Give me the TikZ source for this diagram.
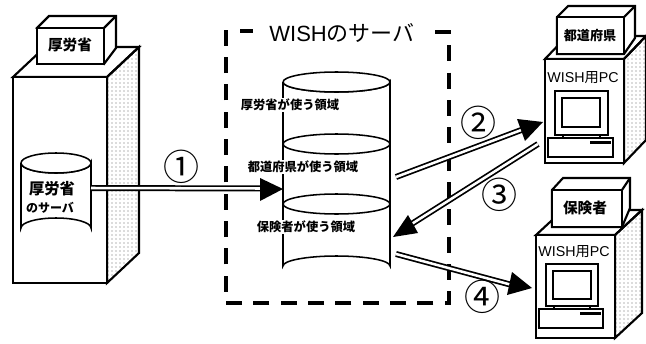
\documentclass[tikz,border=0pt]{standalone}
\usepackage{fontspec}
\setmainfont{Liberation Sans}
\newfontfamily\jp{Noto Sans CJK JP}
\usetikzlibrary{arrows.meta,patterns}
\tikzset{
  x=0.75pt,y=-0.75pt,
  solid box/.style={draw=black,line width=1.6pt,line join=miter,fill=white},
  shaded side/.style={draw=black,line width=1.6pt,pattern=dots,pattern color=black!60},
  body/.style={draw=black,line width=1.15pt,fill=white},
  small label/.style={font=\jp\bfseries\fontsize{9.2pt}{10pt}\selectfont,inner sep=0.6pt,fill=white},
  box label/.style={font=\jp\bfseries\fontsize{11pt}{12pt}\selectfont,inner sep=0pt},
  pc label/.style={font=\fontsize{10.7pt}{12pt}\selectfont,inner sep=0pt},
  num label/.style={font=\jp\fontsize{27pt}{30pt}\selectfont,inner sep=0pt},
  link/.style={draw=black,line width=1.3pt,double=white,double distance=1.9pt},
  arrow head/.style={fill=black,draw=none},
}
\newcommand{\buildingshape}[6]{% x1 y1 x2 y2 dx dy
  \fill[white] (#1,#2)--(#1+#5,#2-#6)--(#3+#5,#2-#6)--(#3,#2)--cycle;
  \path[shaded side] (#3,#2)--(#3+#5,#2-#6)--(#3+#5,#4-#6)--(#3,#4)--cycle;
  \draw[solid box,fill=none] (#1,#2)--(#1+#5,#2-#6)--(#3+#5,#2-#6)--(#3,#2)--cycle;
  \draw[solid box] (#1,#2) rectangle (#3,#4);
}
\newcommand{\cyl}[5]{% xl xr ytop ybot ry
  \path[body] (#1,#3) -- (#1,#4) arc[start angle=180,end angle=360,x radius={(#2-#1)/2},y radius=#5] -- (#2,#3) arc[start angle=0,end angle=180,x radius={(#2-#1)/2},y radius=#5];
  \draw[body] (#1,#3) arc[start angle=180,end angle=540,x radius={(#2-#1)/2},y radius=#5];
}
\newcommand{\pcset}[8]{% mx1 my1 mx2 my2 ix1 iy1 ix2 iy2
  \draw[line width=1.5pt] (#1,#2) rectangle (#3,#4);
  \draw[line width=1.5pt] (#5,#6) rectangle (#7,#8);
  \draw[line width=1pt] (#1+8,#4) -- (#1+8,#4+3) (#3-8,#4) -- (#3-8,#4+3);
  \draw[line width=1.5pt] (#1-7,#4+3) rectangle (#3+5,#4+22);
  \fill[black] (#3-18,#4+6) rectangle (#3+3,#4+9);
}
\begin{document}
\begin{tikzpicture}
\useasboundingbox (0,0) rectangle (646,343);
% left building
\buildingshape{13}{77}{107}{283}{32}{30}
\draw[solid box] (37,28)--(49,16)--(116,16)--(116,48)--(104,64)--cycle;
\draw[solid box,fill=white] (37,28) rectangle (104,64);
\draw[solid box] (104,28)--(116,16);
\node[box label] (labelmhlw) at (70,45) {厚労省};
% WISH frame
\draw[line width=2.8pt,dash pattern=on 12pt off 8.5pt] (435,32)--(449,32)--(449,303)--(226,303)--(226,30);
\draw[line width=2.8pt] (240,31)--(253,31);
\node[font=\fontsize{16.5pt}{18pt}\selectfont,inner sep=0pt] (title) at (342,33) {WISH{\jp のサーバ}};
% left cylinder
\cyl{21}{91}{163}{228}{10}
\node[font=\jp\bfseries\fontsize{11.5pt}{12pt}\selectfont,inner sep=0pt] (srvA) at (52,189) {厚労省};
\node[font=\jp\bfseries\fontsize{9pt}{12pt}\selectfont,inner sep=0pt] (srvB) at (50,208) {のサーバ};
% central cylinder
\cyl{283}{390}{82}{266}{10}
\draw[body,fill=none] (283,144) arc[start angle=180,end angle=540,x radius=53.5,y radius=10];
\draw[body,fill=none] (283,204) arc[start angle=180,end angle=540,x radius=53.5,y radius=10];
\node[small label] (areaA) at (290,105) {厚労省が使う領域};
\node[small label] (areaB) at (303,167) {都道府県が使う領域};
\node[small label] (areaC) at (306,227) {保険者が使う領域};
% right PC 1
\buildingshape{545}{59}{624}{163}{22}{23}
\draw[solid box] (557,17)--(568,6)--(635,6)--(635,38)--(624,54)--(557,54)--cycle;
\draw[solid box] (557,17) rectangle (624,54);
\draw[solid box] (624,17)--(635,6);
\node[box label,font=\jp\bfseries\fontsize{9.8pt}{12pt}\selectfont] (pref) at (590,36) {都道府県};
\node[pc label] (pcA) at (583,78) {WISH{\jp 用}PC};
\pcset{555}{91}{608}{135}{562}{98}{600}{127}
% right PC 2
\buildingshape{536}{235}{615}{338}{27}{25}
\draw[solid box] (552,190)--(563,178)--(630,178)--(630,208)--(622,227)--(552,227)--cycle;
\draw[solid box] (552,190) rectangle (622,227);
\draw[solid box] (622,190)--(630,178);
\node[box label] (insurer) at (585,208) {保険者};
\node[pc label] (pcB) at (574,252) {WISH{\jp 用}PC};
\pcset{546}{264}{598}{306}{553}{271}{591}{299}
% connector ends
\coordinate (a1) at (91,188);
\coordinate (a2) at (262,188.5);
\coordinate (b1) at (396,177);
\coordinate (b2) at (524,129);
\coordinate (c1) at (538,144);
\coordinate (c2) at (410,225);
\coordinate (d1) at (396,254);
\coordinate (d2) at (512,285);
\draw[link] (a1) -- (a2);
\draw[link] (b1) -- (b2);
\draw[link] (c1) -- (c2);
\draw[link] (d1) -- (d2);
\fill[arrow head] (283,189)--(260,178)--(260,201)--cycle;
\fill[arrow head] (543,122)--(517,119)--(525,141)--cycle;
\fill[arrow head] (393,237)--(408,215)--(418,233)--cycle;
\fill[arrow head] (532,288)--(512,272)--(507,295)--cycle;
% numbers
\node[num label] (n1) at (181,167) {①};
\node[num label] (n2) at (478,123) {②};
\node[num label] (n3) at (499,195) {③};
\node[num label] (n4) at (482,297) {④};
\end{tikzpicture}
\end{document}
